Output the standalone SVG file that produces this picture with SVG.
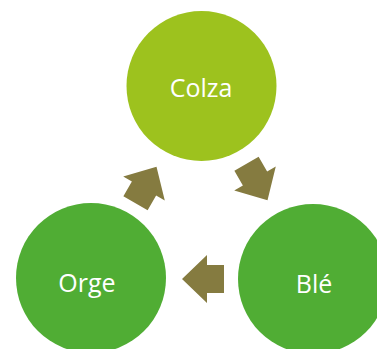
<svg xmlns="http://www.w3.org/2000/svg" width="377" height="349" viewBox="0 0 377 349">
<style>
.lbl{font-family:"Open Sans","Liberation Sans",sans-serif;font-size:25px;fill:#ffffff;text-anchor:middle}
.arr{fill:#857b40}
</style>
<defs>
<polygon id="blk" points="-21,-14 -4,-14 -4,-24 21,0 -4,24 -4,14 -21,14"/>
</defs>
<rect width="377" height="349" fill="#ffffff"/>
<g id="connectors">
<use href="#blk" class="arr" transform="translate(146,185) rotate(-60)"/>
<use href="#blk" class="arr" transform="translate(257,182) rotate(60)"/>
<use href="#blk" class="arr" transform="translate(203,279) rotate(180)"/>
</g>
<g id="colza">
<circle cx="201.5" cy="86" r="75" fill="#9dc21e"/>
<text class="lbl" x="201" y="97">Colza</text>
</g>
<g id="ble">
<circle cx="313" cy="279" r="75" fill="#50ad34"/>
<text class="lbl" x="314" y="293">Blé</text>
</g>
<g id="orge">
<circle cx="91" cy="278" r="75" fill="#50ad34"/>
<text class="lbl" x="87" y="292">Orge</text>
</g>
</svg>
